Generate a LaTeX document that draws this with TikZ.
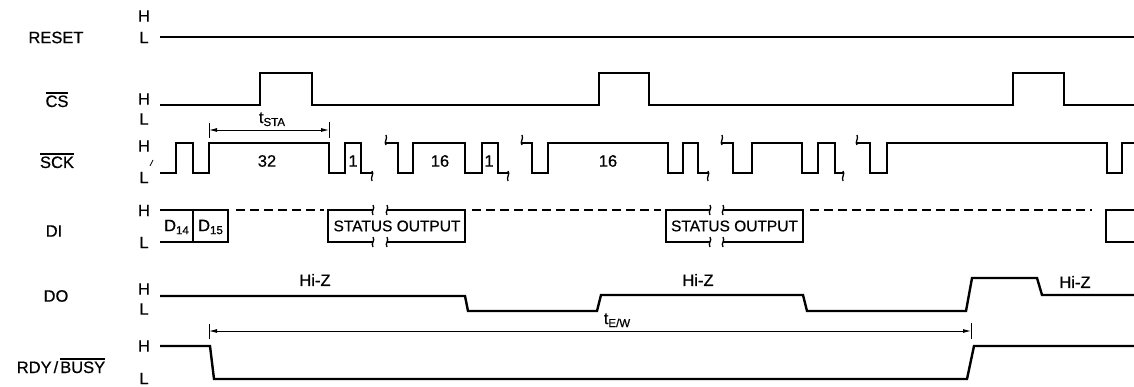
\documentclass[tikz,border=0pt]{standalone}
\usepackage{fontspec}
\setmainfont[FakeBold=0.6]{Liberation Sans}
\usetikzlibrary{arrows.meta}
\newcommand\ovl[1]{\leavevmode\vbox{\hrule height 1.4pt\kern1.6pt\hbox{#1}}}
\newcommand\subtxt[1]{\raisebox{-3pt}{\fontsize{11.5}{11.5}\selectfont #1}}
\newcommand\bkd[2]{\draw[brk] ({#1},{#2-2}) .. controls ({#1+2.5},{#2+1}) and ({#1-2},{#2+4}) .. ({#1},{#2+8});}
\newcommand\bku[2]{\draw[brk] ({#1},{#2+2}) .. controls ({#1-2.5},{#2-1}) and ({#1+2},{#2-4}) .. ({#1},{#2-8});}
\newcommand\bkx[2]{\draw[brk] ({#1},{#2-5}) .. controls ({#1+2.5},{#2-1}) and ({#1-2.5},{#2+1}) .. ({#1},{#2+5});}
\tikzset{
  sig/.style={line width=2.4pt, line join=miter, line cap=butt},
  dsig/.style={sig, dash pattern=on 9pt off 5pt},
  dim/.style={line width=0.9pt},
  brk/.style={line width=1.3pt},
  lbl/.style={font=\fontsize{16.5}{18}\selectfont, inner sep=0pt},
  hl/.style={font=\fontsize{16.5}{18}\selectfont, inner sep=0pt},
  txt/.style={font=\fontsize{15.5}{18}\selectfont, inner sep=0pt},
  tip/.style={{Latex[length=8pt,width=4pt]}-{Latex[length=8pt,width=4pt]}},
}
\begin{document}
\begin{tikzpicture}[x=1pt,y=-1pt]
\useasboundingbox (0,0) rectangle (1134,387);
% signal names
\node[lbl] (nreset) at (56,37.5) {RESET};
\node[lbl,anchor=base] (ncs) at (57,107) {\ovl{CS}};
\node[lbl,anchor=base] (nsck) at (57,168) {\ovl{SCK}};
\node[lbl] (ndi) at (54,231) {DI};
\node[lbl] (ndo) at (56,296) {DO};
\node[lbl,anchor=base] (nrdy) at (61,373) {RDY\kern2pt/\kern2pt\ovl{BUSY}};
% H / L
\node[hl] (h1) at (144,16) {H};   \node[hl] (l1) at (144,37.5) {L};
\node[hl] (h2) at (144,99) {H};   \node[hl] (l2) at (144,119) {L};
\node[hl] (h3) at (144,146) {H};  \node[hl] (l3) at (144,177.5) {L};
\node[hl] (h4) at (144,210.5) {H};\node[hl] (l4) at (144,242.5) {L};
\node[hl] (h5) at (144,289) {H};  \node[hl] (l5) at (144,309) {L};
\node[hl] (h6) at (144,346) {H};  \node[hl] (l6) at (144,378.5) {L};
\draw[line width=0.8pt] (150,166) -- (153,160);
% RESET
\draw[sig] (160,37) -- (1134,37);
% CS
\draw[sig] (160,105) -- (260,105) -- (260,73) -- (312,73) -- (312,105) -- (599,105) -- (599,73) -- (649,73) -- (649,105) -- (1013,105) -- (1013,73) -- (1064,73) -- (1064,105) -- (1134,105);
% SCK
\draw[sig] (160,173) -- (176,173) -- (176,143) -- (193,143) -- (193,173) -- (209,173) -- (209,143) -- (329,143) -- (329,173) -- (345,173) -- (345,143) -- (361,143) -- (361,173) -- (372,173);
\bkd{372}{173}
\bku{386}{143}
\draw[sig] (386,143) -- (398,143) -- (398,173) -- (413,173) -- (413,143) -- (465,143) -- (465,173) -- (482,173) -- (482,143) -- (498,143) -- (498,173) -- (508,173);
\bkd{508}{173}
\bku{522}{143}
\draw[sig] (522,143) -- (532,143) -- (532,173) -- (548,173) -- (548,143) -- (668,143) -- (668,173) -- (683,173) -- (683,143) -- (698,143) -- (698,173) -- (708,173);
\bkd{708}{173}
\bku{722}{143}
\draw[sig] (722,143) -- (733,143) -- (733,173) -- (752,173) -- (752,143) -- (802,143) -- (802,173) -- (818,173) -- (818,143) -- (835,143) -- (835,173) -- (843,173);
\bkd{843}{173}
\bku{857}{143}
\draw[sig] (857,143) -- (870,143) -- (870,173) -- (887,173) -- (887,143) -- (1107,143) -- (1107,173) -- (1122,173) -- (1122,143) -- (1134,143);
\node[lbl] (n32) at (267,161) {32};
\node[lbl] (n1a) at (353,161) {1};
\node[lbl] (n16a) at (440,161) {16};
\node[lbl] (n1b) at (489,161) {1};
\node[lbl] (n16b) at (608,161) {16};
% tSTA
\coordinate (sa) at (209,130); \coordinate (sb) at (329,130);
\draw[dim,tip] (sa) -- (sb);
\draw[dim] (209,123) -- (209,138);
\draw[dim] (329,122) -- (329,138);
\node[lbl,anchor=base] (tsta) at (272,123) {t\subtxt{STA}};
% DI
\draw[sig] (160,210) -- (228,210) -- (228,242) -- (160,242);
\draw[sig] (193,210) -- (193,242);
\node[lbl] (d14) at (176.5,227) {D\subtxt{14}};
\node[lbl] (d15) at (210.5,227) {D\subtxt{15}};
\draw[dsig] (236,210) -- (324,210);
\draw[sig] (373,210) -- (328,210) -- (328,242) -- (373,242);
\draw[sig] (387,210) -- (465,210) -- (465,242) -- (387,242);
\bkx{373}{210} \bkx{373}{242} \bkx{387}{210} \bkx{387}{242}
\node[txt] (st1) at (397,226) {STATUS OUTPUT};
\draw[dsig] (472,210) -- (661,210);
\draw[sig] (710,210) -- (666,210) -- (666,242) -- (710,242);
\draw[sig] (723,210) -- (803,210) -- (803,242) -- (723,242);
\bkx{710}{210} \bkx{710}{242} \bkx{723}{210} \bkx{723}{242}
\node[txt] (st2) at (734.5,226) {STATUS OUTPUT};
\draw[dsig] (810,210) -- (1092,210);
\draw[sig] (1134,210) -- (1106,210) -- (1106,242) -- (1134,242);
% DO
\draw[sig] (160,296) -- (465,296) -- (468,311) -- (597,311) -- (601,295) -- (803,295) -- (807,311) -- (966,311) -- (972,278) -- (1037,278) -- (1042,295) -- (1134,295);
\node[lbl] (hz1) at (315,280) {Hi-Z};
\node[lbl] (hz2) at (698,280) {Hi-Z};
\node[lbl] (hz3) at (1075,282) {Hi-Z};
% tE/W
\coordinate (ea) at (209,331); \coordinate (eb) at (971,331);
\draw[dim,tip] (ea) -- (eb);
\draw[dim] (209,324) -- (209,339);
\draw[dim] (971,323) -- (971,339);
\node[lbl,anchor=base] (tew) at (617,324) {t\subtxt{E/W}};
% RDY/BUSY
\draw[sig] (160,346) -- (210,346) -- (214,379) -- (967,379) -- (974,346) -- (1134,346);
\end{tikzpicture}
\end{document}
